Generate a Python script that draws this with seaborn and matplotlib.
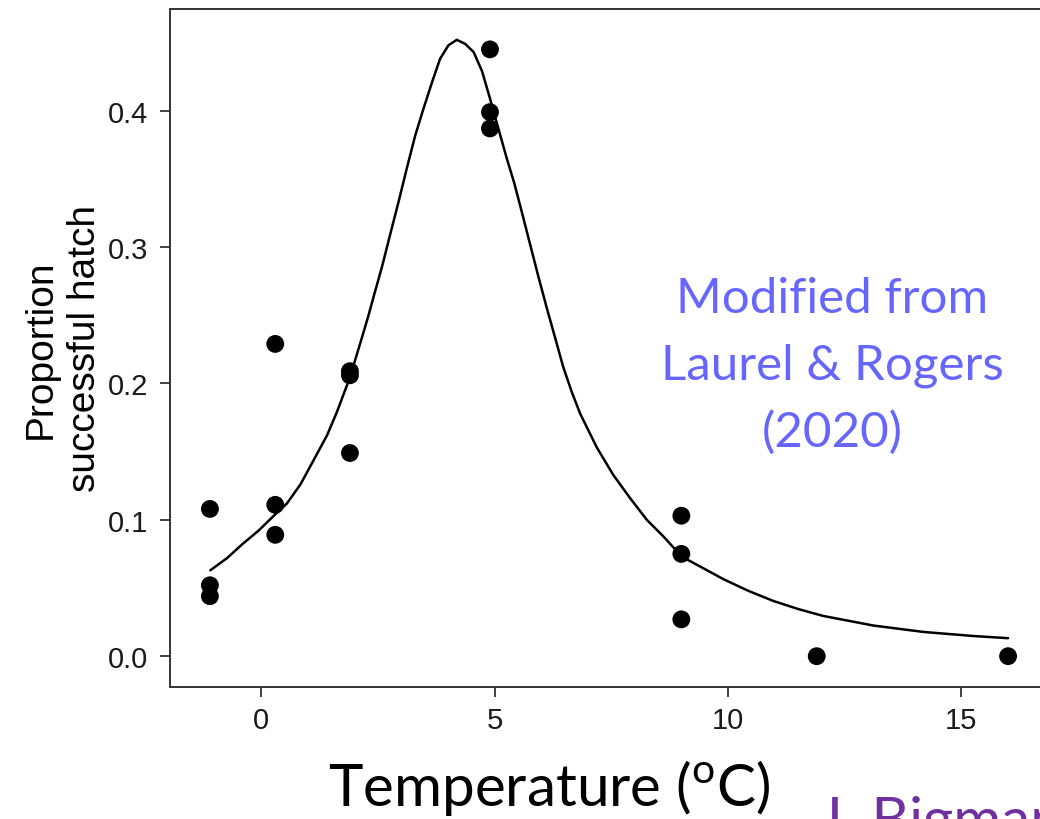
import numpy as np
import pandas as pd
import seaborn as sns
import matplotlib
matplotlib.use("Agg")
import matplotlib.pyplot as plt

# observed hatch proportions
temp_obs = [-1.1, -1.1, -1.1, 0.3, 0.3, 0.3, 1.9, 1.9, 1.9,
            4.9, 4.9, 4.9, 9.0, 9.0, 9.0, 11.9, 16.0]
hatch_obs = [0.108, 0.052, 0.044, 0.229, 0.111, 0.089, 0.209, 0.206, 0.149,
             0.445, 0.399, 0.387, 0.103, 0.075, 0.027, 0.0, 0.0]

# fitted curve
temp_fit = [-1.09, -0.73, -0.41, -0.06, 0.30, 0.55, 0.84, 1.11, 1.41, 1.62,
            1.84, 2.01, 2.16, 2.29, 2.41, 2.59, 2.76, 2.94, 3.12, 3.30,
            3.48, 3.66, 3.83, 4.01, 4.19, 4.37, 4.55, 4.73, 4.90, 5.08,
            5.26, 5.42, 5.58, 5.76, 5.94, 6.12, 6.30, 6.47, 6.65, 6.83,
            7.19, 7.54, 7.90, 8.26, 8.61, 9.01, 9.47, 9.90, 10.43, 10.97,
            11.51, 12.04, 13.11, 14.18, 15.25, 16.0]
hatch_fit = [0.063, 0.072, 0.082, 0.092, 0.104, 0.112, 0.126, 0.143, 0.162,
             0.179, 0.199, 0.217, 0.234, 0.249, 0.264, 0.286, 0.309, 0.333,
             0.358, 0.382, 0.402, 0.421, 0.438, 0.448, 0.452, 0.449, 0.443,
             0.429, 0.409, 0.387, 0.365, 0.347, 0.326, 0.302, 0.278, 0.255,
             0.233, 0.212, 0.194, 0.178, 0.153, 0.133, 0.116, 0.100, 0.088,
             0.073, 0.0645, 0.0565, 0.048, 0.0405, 0.0345, 0.0295, 0.0225,
             0.0178, 0.0148, 0.0132]

yticks = [0.0, 0.1, 0.2, 0.3, 0.4]
xticks = [0, 5, 10, 15]

obs = pd.DataFrame({"temp": temp_obs, "hatch": hatch_obs})
fit = pd.DataFrame({"temp": temp_fit, "hatch": hatch_fit})

sns.set_theme(style="white")
plt.rcParams["font.family"] = ["Liberation Sans", "DejaVu Sans"]
plt.rcParams["mathtext.fontset"] = "custom"
plt.rcParams["mathtext.rm"] = "Lato"

fig = plt.figure(figsize=(10.4, 8.2), dpi=100)
ax = fig.add_axes([170 / 1040, 132 / 820, 878 / 1040, 678 / 820])

sns.lineplot(data=fit, x="temp", y="hatch", color="black", linewidth=1.8,
             ax=ax, sort=False)
sns.scatterplot(data=obs, x="temp", y="hatch", color="black", s=165,
                edgecolor="none", ax=ax, zorder=3)

ax.set_xlim(-1.955, 16.855)
ax.set_ylim(-0.0226, 0.4746)
ax.set_xticks(xticks)
ax.set_yticks(yticks)
ax.set_xticklabels([str(t) for t in xticks])
ax.set_yticklabels(["%.1f" % t for t in yticks])
ax.tick_params(axis="both", which="major", labelsize=21, length=7,
               width=1.3, color="#333333", labelcolor="#1a1a1a",
               direction="out", bottom=True, left=True)
ax.tick_params(axis="y", pad=9)
ax.tick_params(axis="x", pad=7)
for side in ["left", "bottom", "top", "right"]:
    ax.spines[side].set_color("#333333")
    ax.spines[side].set_linewidth(1.4)

ax.set_xlabel("")
ax.set_ylabel("Proportion\nsuccessful hatch", fontsize=28, color="black",
              labelpad=3, linespacing=1.3)

fig.text(328 / 1040, 2 / 820, "Temperature ($^{\\mathrm{o}}$C)",
         fontsize=42, family=["Lato", "DejaVu Sans"], color="black",
         ha="left", va="bottom")

fig.text(832 / 1040, 1 - 366 / 820, "Modified from\nLaurel & Rogers\n(2020)",
         fontsize=35.5, family=["Lato", "DejaVu Sans"], color="#6666ff",
         ha="center", va="center", linespacing=1.6)

fig.text(818 / 1040, 24 / 820, "J. Bigman", fontsize=42,
         family=["Lato", "DejaVu Sans"], color="#7030a0",
         ha="left", va="top")

fig.savefig("out.png", dpi=100)
